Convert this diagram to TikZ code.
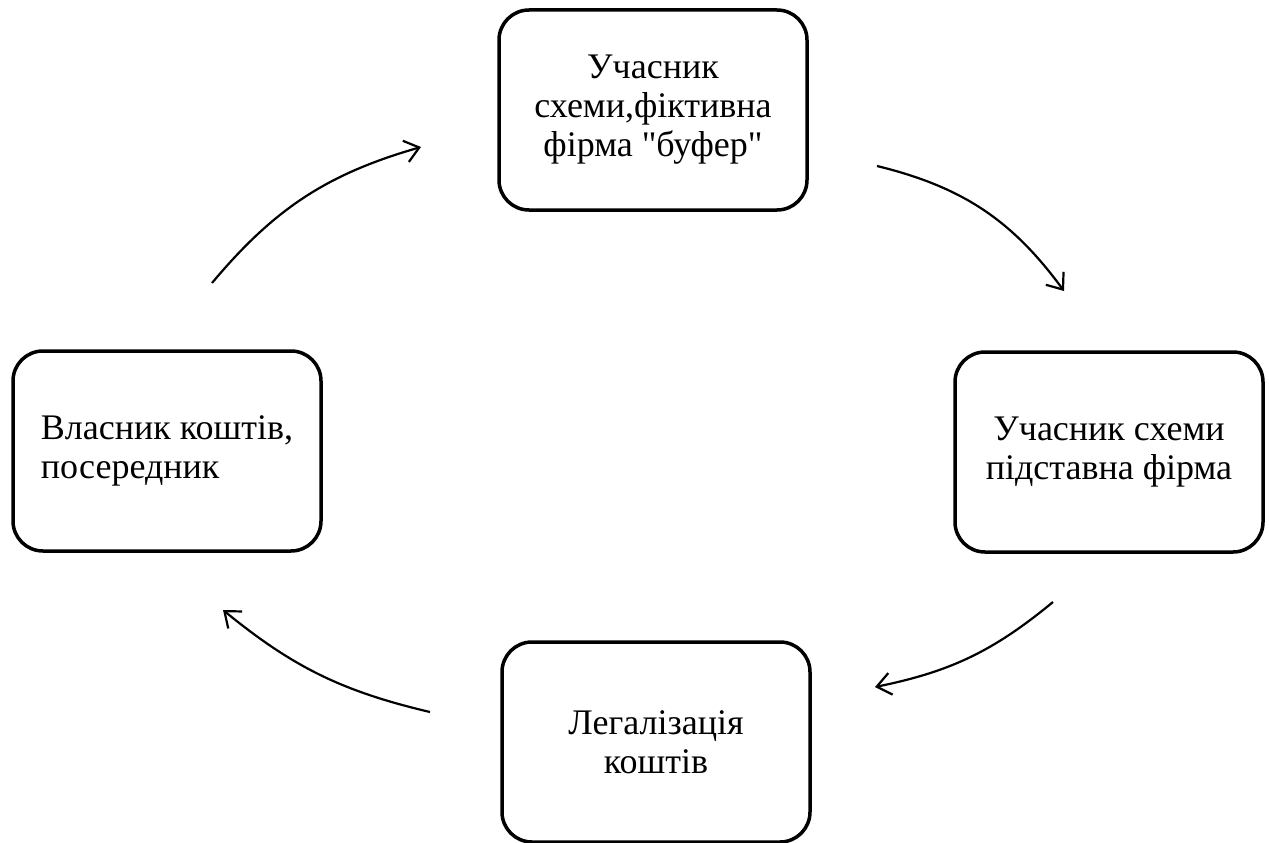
\documentclass[tikz,border=0pt]{standalone}
\usepackage{fontspec}
\newfontfamily\schemefont{Liberation Serif}
\usetikzlibrary{arrows.meta}
\tikzset{
  stage/.style={draw,line width=3.5pt,rounded corners=30pt,
    minimum width=308pt,minimum height=200pt,inner sep=0pt,
    align=center,font=\schemefont\fontsize{36}{39}\selectfont},
  flow/.style={line width=2.2pt,
    -{Straight Barb[length=14pt,width=22pt,line width=2.2pt]}}
}
\begin{document}
\begin{tikzpicture}[x=1pt,y=1pt]
  \useasboundingbox (0,0) rectangle (1269,-843);
  % stages of the scheme
  \node[stage] (buffer) at (653,-110) {Учасник\\схеми,фіктивна\\фірма "буфер"};
  \node[stage] (shell) at (1109,-452) {Учасник схеми\\підставна фірма};
  \node[stage] (legal) at (656,-742) {Легалізація\\коштів};
  \node[stage,align=left] (owner) at (167,-451) {Власник коштів,\\посередник};
  % arrow ends
  \coordinate (ownerout) at (212,-283);
  \coordinate (bufferin) at (421,-147);
  \coordinate (bufferout) at (877,-166);
  \coordinate (shellin) at (1064,-291);
  \coordinate (shellout) at (1053,-602);
  \coordinate (legalin) at (875,-687);
  \coordinate (legalout) at (430,-712);
  \coordinate (ownerin) at (223,-610);
  % cycle
  \draw[flow] (ownerout) to[bend left=17] (bufferin);
  \draw[flow] (bufferout) to[bend left=20] (shellin);
  \draw[flow] (shellout) to[bend left=14] (legalin);
  \draw[flow] (legalout) to[bend left=13] (ownerin);
\end{tikzpicture}
\end{document}
